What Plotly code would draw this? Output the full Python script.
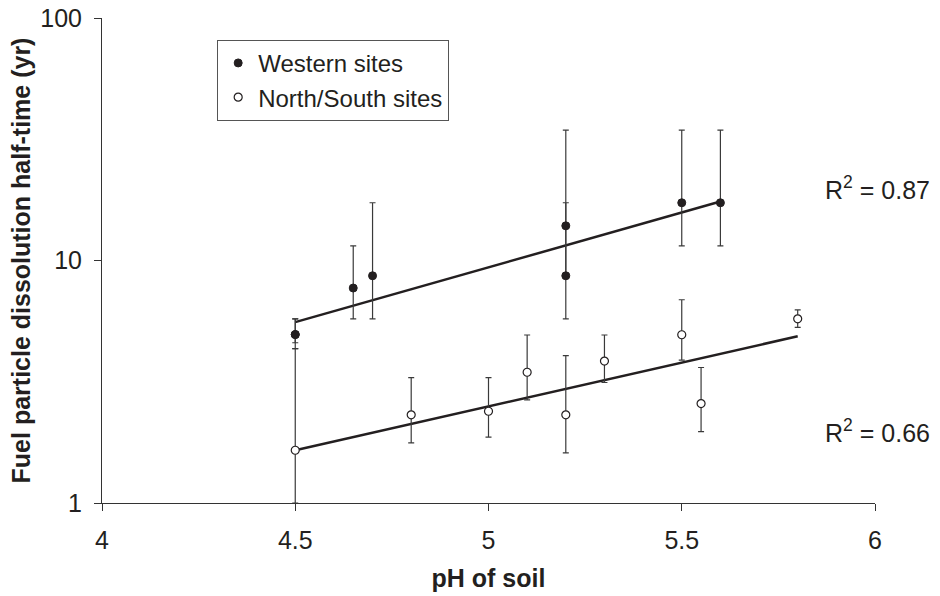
import math
import plotly.graph_objects as go

# ---- data ----
west_ph = [4.5, 4.5, 4.65, 4.7, 5.2, 5.2, 5.5, 5.6]
west_half = [4.95, 4.95, 7.7, 8.65, 13.9, 8.65, 17.3, 17.3]
west_upper = [5.75, 5.75, 11.5, 17.3, 34.5, 17.3, 34.5, 34.5]
west_lower = [4.58, 4.33, 5.75, 5.75, 8.65, 5.75, 11.5, 11.5]

ns_ph = [4.5, 4.8, 5.0, 5.1, 5.2, 5.3, 5.5, 5.55, 5.8]
ns_half = [1.65, 2.31, 2.39, 3.46, 2.31, 3.85, 4.94, 2.57, 5.75]
ns_upper = [4.33, 3.29, 3.29, 4.93, 4.05, 4.93, 6.89, 3.62, 6.26]
ns_lower = [1.0, 1.77, 1.87, 2.66, 1.61, 3.14, 3.88, 1.97, 5.3]

west_fit_ph = [4.5, 5.6]
west_fit_half = [5.57, 17.5]
ns_fit_ph = [4.5, 5.8]
ns_fit_half = [1.65, 4.87]

r2_labels = ["R<sup>2</sup> = 0.87", "R<sup>2</sup> = 0.66"]
r2_pos_ph = [5.865, 5.865]
r2_pos_half = [19.9, 1.99]

x_ticks = [4, 4.5, 5, 5.5, 6]
x_ticklabels = ["4", "4.5", "5", "5.5", "6"]
y_ticks = [1, 10, 100]
y_ticklabels = ["1", "10", "100"]

FONT = "Liberation Sans, Arial, sans-serif"
INK = "#231f20"

fig = go.Figure()

fig.add_trace(go.Scatter(
    x=west_fit_ph, y=west_fit_half, mode="lines",
    line=dict(color=INK, width=2.5), showlegend=False, hoverinfo="skip"))
fig.add_trace(go.Scatter(
    x=ns_fit_ph, y=ns_fit_half, mode="lines",
    line=dict(color=INK, width=2.5), showlegend=False, hoverinfo="skip"))

fig.add_trace(go.Scatter(
    x=west_ph, y=west_half, mode="markers", name="Western sites",
    marker=dict(symbol="circle", size=8, color=INK, line=dict(color=INK, width=1)),
    error_y=dict(type="data", symmetric=False,
                 array=[u - v for u, v in zip(west_upper, west_half)],
                 arrayminus=[v - l for l, v in zip(west_lower, west_half)],
                 color="#3a3a3a", thickness=1.2, width=3)))

fig.add_trace(go.Scatter(
    x=ns_ph, y=ns_half, mode="markers", name="North/South sites",
    marker=dict(symbol="circle", size=8, color="white", line=dict(color=INK, width=1.2)),
    error_y=dict(type="data", symmetric=False,
                 array=[u - v for u, v in zip(ns_upper, ns_half)],
                 arrayminus=[v - l for l, v in zip(ns_lower, ns_half)],
                 color="#3a3a3a", thickness=1.2, width=3)))

for lab, px, py in zip(r2_labels, r2_pos_ph, r2_pos_half):
    fig.add_annotation(x=px, y=math.log10(py), xref="x", yref="y", text=lab,
                       showarrow=False, xanchor="left", yanchor="middle",
                       font=dict(family=FONT, size=25, color=INK))

fig.update_layout(
    width=940, height=596,
    margin=dict(l=102, r=65, t=18, b=93, pad=0),
    paper_bgcolor="white", plot_bgcolor="white",
    font=dict(family=FONT, size=25, color=INK),
    legend=dict(x=0.149, y=0.955, xanchor="left", yanchor="top",
                bordercolor="#555555", borderwidth=1, bgcolor="white",
                font=dict(family=FONT, size=24, color=INK),
                tracegroupgap=0, itemwidth=30),
    xaxis=dict(range=[4, 6], tickvals=x_ticks, ticktext=x_ticklabels,
               automargin=False,
               showgrid=False, zeroline=False, showline=True, linecolor="#333333",
               linewidth=1, ticks="outside", ticklen=7, tickcolor="#333333",
               ticklabelstandoff=8,
               title=dict(text="<b>pH of soil</b>", standoff=16,
                          font=dict(family=FONT, size=25, color=INK))),
    yaxis=dict(type="log", range=[0, 2], tickvals=y_ticks, ticktext=y_ticklabels,
               automargin=False,
               showgrid=False, zeroline=False, showline=True, linecolor="#333333",
               linewidth=1, ticks="outside", ticklen=7, tickcolor="#333333",
               ticklabelstandoff=7,
               title=dict(text="<b>Fuel particle dissolution half-time (yr)</b>", standoff=2,
                          font=dict(family=FONT, size=25, color=INK))),
)

fig.write_html("out.html")
